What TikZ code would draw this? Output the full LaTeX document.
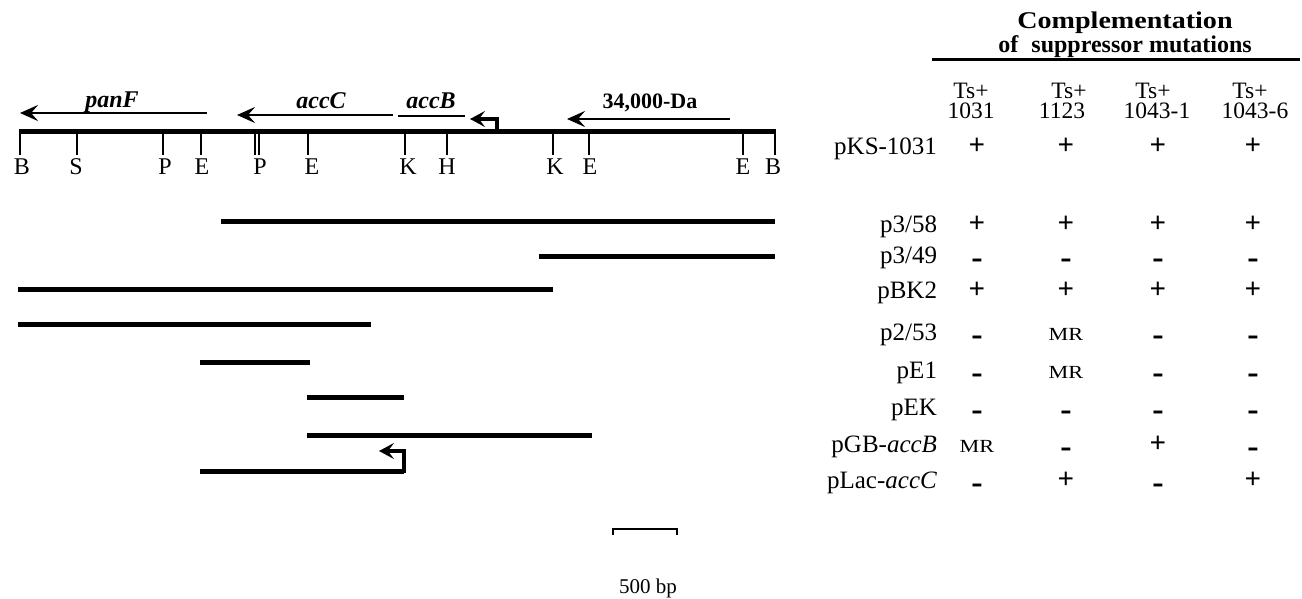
\documentclass[tikz,border=0pt]{standalone}
\usepackage{graphicx}
\usepackage{fontspec}
\setmainfont{Liberation Serif}
\usetikzlibrary{arrows.meta}

% result symbols of the complementation table
\newcommand\sgnplus{{\fontsize{29}{29}\selectfont\bfseries +}}
\newcommand\sgnminus{\raisebox{-5.5pt}{\fontsize{34}{34}\selectfont\bfseries -}}
\newcommand\sgnmr{\scalebox{1.2}[1]{\fontsize{18.5}{18.5}\selectfont MR}}

% one table row: name, baseline, plasmid label, four results
\newcommand\resrow[7]{%
  \node[rowlabel] (#1) at (937,#2) {#3};
  \node[result] (#1-a) at (977,#2) {#4};
  \node[result] (#1-b) at (1066,#2) {#5};
  \node[result] (#1-c) at (1158,#2) {#6};
  \node[result] (#1-d) at (1253,#2) {#7};
}

\begin{document}
\begin{tikzpicture}[x=1pt,y=-1pt,
  every node/.style={inner sep=0pt,outer sep=0pt},
  mapline/.style={line width=5pt},
  sitetick/.style={line width=2.6pt},
  thintick/.style={line width=1.5pt},
  fragline/.style={line width=5pt},
  genearrow/.style={line width=2.8pt,-{Stealth[length=18pt,width=16pt,inset=7pt]}},
  bentarrow/.style={line width=3.2pt,-{Stealth[length=15pt,width=16pt,inset=6pt]}},
  sitelabel/.style={anchor=base,font=\fontsize{24}{24}\selectfont},
  genelabel/.style={anchor=base,font=\fontsize{24}{24}\selectfont\bfseries\itshape},
  rowlabel/.style={anchor=base east,font=\fontsize{25}{25}\selectfont},
  colhead/.style={anchor=base,font=\fontsize{23.5}{23.5}\selectfont},
  result/.style={anchor=base},
]
\useasboundingbox (0,0) rectangle (1302,599);

% ---------- restriction map ----------
\coordinate (mapL) at (18.7,132);
\coordinate (mapR) at (776.3,132);
\draw[mapline] (mapL) -- (mapR);

\foreach \x/\lab/\lx [count=\i] in {20/B/22, 77/S/76, 163/P/165, 201/E/202,
    308/E/312, 405/K/408, 447/H/447, 553/K/555, 589/E/590, 743/E/743, 775/B/773} {
  \coordinate (t\i) at (\x,132);
  \coordinate (tb\i) at (\x,155);
  \draw[sitetick] (t\i) -- (tb\i);
  \node[sitelabel] (s\i) at (\lx,175) {\lab};
}
% double PstI site
\coordinate (pp1) at (255,132); \coordinate (pp1b) at (255,155);
\coordinate (pp2) at (259,132); \coordinate (pp2b) at (259,155);
\draw[thintick] (pp1) -- (pp1b);
\draw[thintick] (pp2) -- (pp2b);
\node[sitelabel] (sP2) at (260,175) {P};

% ---------- genes ----------
\coordinate (panFs) at (207,113); \coordinate (panFe) at (20,113);
\draw[genearrow] (panFs) -- (panFe);
\node[genelabel] (panF) at (112,108) {panF};

\coordinate (accCs) at (393,115); \coordinate (accCe) at (237,115);
\draw[genearrow] (accCs) -- (accCe);
\node[genelabel] (accC) at (321,109) {accC};

\coordinate (accBs) at (398,116); \coordinate (accBe) at (465,116);
\draw[line width=2.8pt] (accBs) -- (accBe);
\node[genelabel] (accB) at (431,109) {accB};

% promoter
\coordinate (prom0) at (497,133); \coordinate (prom1) at (497,119);
\coordinate (prom2) at (470,119);
\draw[bentarrow] (prom0) -- (prom1) -- (prom2);

\coordinate (daS) at (730,119); \coordinate (daE) at (567,119);
\draw[genearrow] (daS) -- (daE);
\node[anchor=base,font=\fontsize{22}{22}\selectfont\bfseries] (da) at (650,109) {34,000-Da};

% ---------- subclones ----------
\foreach \xa/\xb/\y [count=\i] in {221/775/221, 539/775/256, 18/553/289, 18/371/324,
    200/310/362, 307/404/397, 307/592/435} {
  \coordinate (fa\i) at (\xa,\y);
  \coordinate (fb\i) at (\xb,\y);
  \draw[fragline] (fa\i) -- (fb\i);
}
\coordinate (fa8) at (200,471); \coordinate (fb8) at (404,471);
\draw[fragline] (fa8) -- (fb8);
\coordinate (fc8) at (404,473); \coordinate (fd8) at (404,451);
\coordinate (fe8) at (379,451);
\draw[bentarrow] (fc8) -- (fd8) -- (fe8);

% ---------- scale bar ----------
\coordinate (sb1) at (613,535); \coordinate (sb2) at (613,529);
\coordinate (sb3) at (677,529); \coordinate (sb4) at (677,535);
\draw[line width=2.5pt] (sb1) -- (sb2) -- (sb3) -- (sb4);
\node[anchor=base,font=\fontsize{21}{21}\selectfont] (bp) at (648,593) {500 bp};

% ---------- complementation table ----------
\node[anchor=base,font=\fontsize{24}{24}\selectfont\bfseries] (title1) at (1125,29)
  {\scalebox{1.17}[1]{Complementation}};
\node[anchor=base,font=\fontsize{24}{24}\selectfont\bfseries] (title2) at (1125,53)
  {of\hspace{0.55em}suppressor mutations};
\coordinate (ulL) at (932,60); \coordinate (ulR) at (1300,60);
\draw[line width=3pt] (ulL) -- (ulR);

% column heads: strain line and allele line
\node[colhead] (h1a) at (971,99) {Ts+};
\node[colhead] (h1b) at (971,119) {1031};
\node[colhead] (h2a) at (1069,99) {Ts+};
\node[colhead] (h2b) at (1062,119) {1123};
\node[colhead] (h3a) at (1153,99) {Ts+};
\node[colhead] (h3b) at (1157,119) {1043-1};
\node[colhead] (h4a) at (1250,99) {Ts+};
\node[colhead] (h4b) at (1255,119) {1043-6};

\resrow{pKS}{155}{pKS-1031}{\sgnplus}{\sgnplus}{\sgnplus}{\sgnplus}
\resrow{p358}{233}{p3/58}{\sgnplus}{\sgnplus}{\sgnplus}{\sgnplus}
\resrow{p349}{263}{p3/49}{\sgnminus}{\sgnminus}{\sgnminus}{\sgnminus}
\resrow{pBK}{298}{pBK2}{\sgnplus}{\sgnplus}{\sgnplus}{\sgnplus}
\resrow{p253}{340}{p2/53}{\sgnminus}{\sgnmr}{\sgnminus}{\sgnminus}
\resrow{pEone}{378}{pE1}{\sgnminus}{\sgnmr}{\sgnminus}{\sgnminus}
\resrow{pEK}{415}{pEK}{\sgnminus}{\sgnminus}{\sgnminus}{\sgnminus}
\resrow{pGB}{452}{pGB-\textit{accB}}{\sgnmr}{\sgnminus}{\sgnplus}{\sgnminus}
\resrow{pLac}{488}{pLac-\textit{accC}}{\sgnminus}{\sgnplus}{\sgnminus}{\sgnplus}
\end{tikzpicture}
\end{document}
